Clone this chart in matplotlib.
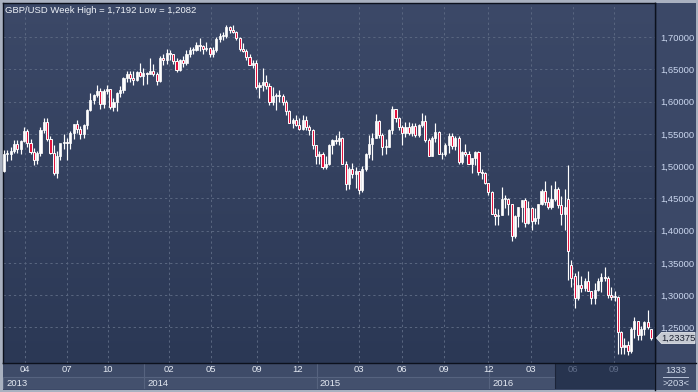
import matplotlib
matplotlib.use("Agg")
import matplotlib.pyplot as plt
import numpy as np
from matplotlib.patches import Rectangle, Polygon
from matplotlib.colors import LinearSegmentedColormap

# ---------------- data (weekly GBP/USD candles) ----------------
opens = [1.4920, 1.5190, 1.5190, 1.5230, 1.5350, 1.5260, 1.5395, 1.5550, 1.5355, 1.5220,
         1.5100, 1.5200, 1.5560, 1.5680, 1.5420, 1.5210, 1.4890, 1.5150, 1.5360, 1.5370,
         1.5360, 1.5520, 1.5650, 1.5570, 1.5490, 1.5640, 1.5870, 1.6020, 1.6100, 1.6170,
         1.5960, 1.6170, 1.6190, 1.5910, 1.6000, 1.6140, 1.6180, 1.6370, 1.6420, 1.6360,
         1.6340, 1.6460, 1.6400, 1.6440, 1.6430, 1.6480, 1.6430, 1.6320, 1.6680, 1.6650,
         1.6750, 1.6730, 1.6630, 1.6490, 1.6640, 1.6600, 1.6740, 1.6800, 1.6800, 1.6880,
         1.6860, 1.6820, 1.6830, 1.6740, 1.6800, 1.6970, 1.7010, 1.7010, 1.7150, 1.7110,
         1.7080, 1.6980, 1.6820, 1.6790, 1.6690, 1.6570, 1.6590, 1.6230, 1.6260, 1.6310,
         1.6240, 1.6000, 1.6080, 1.6090, 1.6080, 1.6000, 1.5850, 1.5660, 1.5710, 1.5640,
         1.5580, 1.5720, 1.5600, 1.5560, 1.5320, 1.5150, 1.5180, 1.4990, 1.5040, 1.5320,
         1.5400, 1.5390, 1.5430, 1.5040, 1.4730, 1.4950, 1.4870, 1.4920, 1.4630, 1.4960,
         1.5180, 1.5340, 1.5440, 1.5700, 1.5480, 1.5290, 1.5300, 1.5560, 1.5880, 1.5740,
         1.5600, 1.5510, 1.5600, 1.5510, 1.5620, 1.5480, 1.5640, 1.5700, 1.5410, 1.5160,
         1.5430, 1.5530, 1.5190, 1.5180, 1.5320, 1.5460, 1.5310, 1.5430, 1.5060, 1.5220,
         1.5190, 1.5040, 1.5120, 1.5220, 1.4910, 1.4900, 1.4740, 1.4600, 1.4260, 1.4230,
         1.4250, 1.4490, 1.4490, 1.4410, 1.3920, 1.4230, 1.4360, 1.4470, 1.4120, 1.4350,
         1.4150, 1.4190, 1.4410, 1.4620, 1.4440, 1.4370, 1.4490, 1.4640, 1.4390, 1.4260,
         1.4490, 1.3470, 1.3290, 1.2950, 1.3160, 1.3110, 1.3220, 1.3070, 1.2950, 1.3080,
         1.3220, 1.3280, 1.3260, 1.3010, 1.2970, 1.2970, 1.2430, 1.2190, 1.2230, 1.2130,
         1.2480, 1.2600, 1.2380, 1.2480, 1.2580, 1.2470]
highs = [1.5250, 1.5250, 1.5300, 1.5410, 1.5410, 1.5400, 1.5605, 1.5580, 1.5420, 1.5280,
         1.5240, 1.5605, 1.5750, 1.5750, 1.5470, 1.5320, 1.5230, 1.5340, 1.5490, 1.5430,
         1.5540, 1.5650, 1.5720, 1.5620, 1.5650, 1.5890, 1.6130, 1.6110, 1.6260, 1.6210,
         1.6190, 1.6260, 1.6190, 1.6050, 1.6150, 1.6240, 1.6380, 1.6470, 1.6480, 1.6480,
         1.6480, 1.6600, 1.6520, 1.6460, 1.6670, 1.6580, 1.6460, 1.6700, 1.6740, 1.6820,
         1.6800, 1.6740, 1.6670, 1.6660, 1.6700, 1.6800, 1.6840, 1.6850, 1.6920, 1.6990,
         1.6880, 1.6930, 1.6850, 1.6850, 1.7000, 1.7060, 1.7070, 1.7180, 1.7170, 1.7192,
         1.7090, 1.7000, 1.6910, 1.6810, 1.6740, 1.6640, 1.6640, 1.6310, 1.6520, 1.6410,
         1.6280, 1.6230, 1.6140, 1.6180, 1.6120, 1.6020, 1.5870, 1.5740, 1.5790, 1.5740,
         1.5790, 1.5780, 1.5640, 1.5570, 1.5330, 1.5240, 1.5220, 1.5160, 1.5350, 1.5420,
         1.5480, 1.5550, 1.5450, 1.5080, 1.4990, 1.5050, 1.4990, 1.4930, 1.5000, 1.5200,
         1.5480, 1.5520, 1.5810, 1.5710, 1.5510, 1.5420, 1.5570, 1.5930, 1.5890, 1.5760,
         1.5630, 1.5680, 1.5680, 1.5660, 1.5660, 1.5650, 1.5820, 1.5790, 1.5430, 1.5470,
         1.5660, 1.5540, 1.5220, 1.5360, 1.5510, 1.5510, 1.5470, 1.5470, 1.5240, 1.5340,
         1.5240, 1.5130, 1.5240, 1.5230, 1.4950, 1.4910, 1.4740, 1.4610, 1.4350, 1.4340,
         1.4670, 1.4560, 1.4500, 1.4410, 1.4240, 1.4360, 1.4470, 1.4510, 1.4460, 1.4360,
         1.4350, 1.4410, 1.4640, 1.4770, 1.4520, 1.4710, 1.4770, 1.4670, 1.4530, 1.4650,
         1.5018, 1.3550, 1.3340, 1.3370, 1.3290, 1.3260, 1.3370, 1.3070, 1.3190, 1.3260,
         1.3340, 1.3440, 1.3290, 1.3120, 1.3060, 1.2980, 1.2450, 1.2330, 1.2290, 1.2500,
         1.2670, 1.2600, 1.2520, 1.2600, 1.2770, 1.2480]
lows = [1.4905, 1.5080, 1.5100, 1.5200, 1.5200, 1.5190, 1.5370, 1.5300, 1.5180, 1.5010,
        1.5040, 1.5160, 1.5510, 1.5390, 1.5180, 1.4860, 1.4815, 1.5100, 1.5270, 1.5100,
        1.5260, 1.5420, 1.5520, 1.5420, 1.5430, 1.5570, 1.5860, 1.5960, 1.6070, 1.5890,
        1.5900, 1.6110, 1.5880, 1.5860, 1.5860, 1.6070, 1.6130, 1.6300, 1.6310, 1.6250,
        1.6320, 1.6380, 1.6260, 1.6270, 1.6420, 1.6390, 1.6250, 1.6300, 1.6570, 1.6580,
        1.6640, 1.6580, 1.6460, 1.6480, 1.6540, 1.6560, 1.6690, 1.6740, 1.6780, 1.6790,
        1.6730, 1.6780, 1.6690, 1.6690, 1.6760, 1.6920, 1.6960, 1.6990, 1.7060, 1.7060,
        1.6960, 1.6790, 1.6760, 1.6640, 1.6560, 1.6520, 1.6200, 1.6050, 1.6160, 1.6190,
        1.5950, 1.5950, 1.5870, 1.6000, 1.5940, 1.5790, 1.5660, 1.5590, 1.5620, 1.5560,
        1.5560, 1.5560, 1.5480, 1.5260, 1.5030, 1.5030, 1.4950, 1.4950, 1.5020, 1.5190,
        1.5350, 1.5330, 1.5030, 1.4630, 1.4640, 1.4820, 1.4660, 1.4565, 1.4600, 1.4920,
        1.5130, 1.5090, 1.5430, 1.5440, 1.5170, 1.5190, 1.5300, 1.5500, 1.5690, 1.5560,
        1.5330, 1.5450, 1.5480, 1.5460, 1.5450, 1.5450, 1.5600, 1.5380, 1.5160, 1.5160,
        1.5370, 1.5190, 1.5110, 1.5150, 1.5210, 1.5270, 1.5250, 1.5030, 1.5030, 1.5150,
        1.5030, 1.4900, 1.5010, 1.4860, 1.4800, 1.4720, 1.4560, 1.4260, 1.4080, 1.4080,
        1.4250, 1.4350, 1.4250, 1.3840, 1.3880, 1.4050, 1.4140, 1.4060, 1.4100, 1.4010,
        1.4100, 1.4100, 1.4400, 1.4400, 1.4330, 1.4330, 1.4460, 1.4350, 1.4090, 1.4010,
        1.3229, 1.3122, 1.2795, 1.2930, 1.3050, 1.3060, 1.3060, 1.2870, 1.2860, 1.3060,
        1.3050, 1.3220, 1.2950, 1.2920, 1.2910, 1.2082, 1.2090, 1.2090, 1.2080, 1.2110,
        1.2330, 1.2300, 1.2300, 1.2380, 1.2480, 1.2300]
closes = [1.5190, 1.5190, 1.5230, 1.5350, 1.5260, 1.5395, 1.5550, 1.5355, 1.5220, 1.5100,
          1.5200, 1.5560, 1.5680, 1.5420, 1.5210, 1.4890, 1.5150, 1.5360, 1.5370, 1.5360,
          1.5520, 1.5650, 1.5570, 1.5490, 1.5640, 1.5870, 1.6020, 1.6100, 1.6170, 1.5960,
          1.6170, 1.6190, 1.5910, 1.6000, 1.6140, 1.6180, 1.6370, 1.6420, 1.6360, 1.6340,
          1.6460, 1.6400, 1.6440, 1.6430, 1.6480, 1.6430, 1.6320, 1.6680, 1.6650, 1.6750,
          1.6730, 1.6630, 1.6490, 1.6640, 1.6600, 1.6740, 1.6800, 1.6800, 1.6880, 1.6860,
          1.6820, 1.6830, 1.6740, 1.6800, 1.6970, 1.7010, 1.7010, 1.7150, 1.7110, 1.7080,
          1.6980, 1.6820, 1.6790, 1.6690, 1.6570, 1.6590, 1.6230, 1.6260, 1.6310, 1.6240,
          1.6000, 1.6080, 1.6090, 1.6080, 1.6000, 1.5850, 1.5660, 1.5710, 1.5640, 1.5580,
          1.5720, 1.5600, 1.5560, 1.5320, 1.5150, 1.5180, 1.4990, 1.5040, 1.5320, 1.5400,
          1.5390, 1.5430, 1.5040, 1.4730, 1.4950, 1.4870, 1.4920, 1.4630, 1.4960, 1.5180,
          1.5340, 1.5440, 1.5700, 1.5480, 1.5290, 1.5300, 1.5560, 1.5880, 1.5740, 1.5600,
          1.5510, 1.5600, 1.5510, 1.5620, 1.5480, 1.5640, 1.5700, 1.5410, 1.5160, 1.5430,
          1.5530, 1.5190, 1.5180, 1.5320, 1.5460, 1.5310, 1.5430, 1.5060, 1.5220, 1.5190,
          1.5040, 1.5120, 1.5220, 1.4910, 1.4900, 1.4740, 1.4600, 1.4260, 1.4230, 1.4250,
          1.4490, 1.4490, 1.4410, 1.3920, 1.4230, 1.4360, 1.4470, 1.4120, 1.4350, 1.4150,
          1.4190, 1.4410, 1.4620, 1.4440, 1.4370, 1.4490, 1.4640, 1.4390, 1.4260, 1.4360,
          1.3680, 1.3270, 1.2950, 1.3160, 1.3110, 1.3220, 1.3070, 1.2950, 1.3080, 1.3220,
          1.3280, 1.3260, 1.3010, 1.2970, 1.2970, 1.2430, 1.2190, 1.2230, 1.2130, 1.2480,
          1.2600, 1.2380, 1.2480, 1.2590, 1.2510, 1.23375]

price_ticks = [1.25, 1.30, 1.35, 1.40, 1.45, 1.50, 1.55, 1.60, 1.65, 1.70]
price_tick_labels = ['1,25000', '1,30000', '1,35000', '1,40000', '1,45000',
                     '1,50000', '1,55000', '1,60000', '1,65000', '1,70000']
month_labels = ['04', '07', '10', '02', '05', '09', '12', '03', '06', '09', '12', '03', '06', '09']
month_pos = [6.3, 19.0, 31.3, 49.7, 62.4, 76.2, 88.6, 107.0, 119.9, 132.6, 145.9, 158.8, 171.5, 183.9]
year_labels = ['2013', '2014', '2015', '2016']
year_starts = [-0.3, 42.2, 94.3, 146.2]
selection_start = 166.1
title = 'GBP/USD Week High = 1,7192 Low = 1,2082'
last_price_label = '1,23375'
bars_label = '1333'
scale_label = '>203<'

# ---------------- figure ----------------
W, H = 698, 392
FONT = 'Liberation Sans'
FS = 6.8
fig = plt.figure(figsize=(W / 100, H / 100), dpi=100)
fig.patch.set_facecolor('#a9b1c0')

ov = fig.add_axes([0, 0, 1, 1], zorder=0)
ov.set_xlim(0, W)
ov.set_ylim(H, 0)
ov.axis('off')
ov.add_patch(Rectangle((3, 3), 693, 387, fc='#3b4867', ec='none'))
ov.add_patch(Rectangle((655, 363), 41, 27, fc='#3f4c69', ec='none'))

XMIN, XMAX = -0.3, 196.2
YMIN, YMAX = 1.19497, 1.75267

ax = fig.add_axes([3 / W, 1 - 363 / H, 652 / W, 360 / H], zorder=2)
grad = np.linspace(0, 1, 256).reshape(-1, 1)
cmap = LinearSegmentedColormap.from_list('bg', ['#2b3855', '#3c4968'])
ax.imshow(grad, extent=[0, 1, 0, 1], transform=ax.transAxes, cmap=cmap,
          aspect='auto', origin='lower', zorder=0)
ax.set_xlim(XMIN, XMAX)
ax.set_ylim(YMIN, YMAX)

gcol = '#58657f'
ax.hlines(price_ticks, XMIN, XMAX, colors=gcol, linestyles=(0, (2.2, 2.8)), linewidth=0.75, zorder=1)
ax.vlines(month_pos, YMIN, YMAX, colors=gcol, linestyles=(0, (2.2, 2.8)), linewidth=0.75, zorder=1)

o = np.array(opens)
h = np.array(highs)
l = np.array(lows)
c = np.array(closes)
idx = np.arange(len(c))
up = c >= o
ax.vlines(idx, l, h, color='white', linewidth=0.85, zorder=3)
body_lo = np.minimum(o, c)
body_h = np.maximum(np.abs(c - o), 0.0015)
ax.bar(idx[up], body_h[up], bottom=body_lo[up], width=0.64, color='white',
       edgecolor='white', linewidth=0.5, zorder=4)
ax.bar(idx[~up], body_h[~up], bottom=body_lo[~up], width=0.64, color='#e3123d',
       edgecolor='white', linewidth=0.7, zorder=4)

ax.set_xticks([])
ax.yaxis.tick_right()
ax.set_yticks(price_ticks)
ax.set_yticklabels(price_tick_labels, fontsize=FS, color='#cad6ee', family=FONT)
ax.tick_params(axis='y', length=0, pad=3.5)
for s in ax.spines.values():
    s.set_color('#0c111d')
    s.set_linewidth(1.0)

ax.text(0.003, 0.992, title, transform=ax.transAxes, ha='left', va='top',
        fontsize=FS, color='#eef2f8', family=FONT, zorder=6)

# ---------------- bottom time panel ----------------
bax = fig.add_axes([3 / W, 1 - 389 / H, 652 / W, 26 / H], zorder=1)
bax.set_xlim(XMIN, XMAX)
bax.set_ylim(0, 26)
bax.axis('off')
bax.add_patch(Rectangle((XMIN, 0), XMAX - XMIN, 26, fc='#3e4b68', ec='none', zorder=0))
year_ends = year_starts[1:] + [XMAX]
for ys, ye, lab in zip(year_starts, year_ends, year_labels):
    bax.add_patch(Rectangle((ys, 0), ye - ys, 12, fc='#43506d', ec='#56637f', lw=0.8, zorder=1))
    if ys > XMIN:
        bax.plot([ys, ys], [0, 26], color='#56637f', lw=0.8, zorder=2)
    bax.text(ys + 0.9, 5.6, lab, ha='left', va='center', fontsize=FS,
             color='#e4e9f2', family=FONT, zorder=4)
bax.add_patch(Rectangle((selection_start, 0), XMAX - selection_start, 26,
                        fc='#27344f', ec='#1c2438', lw=0.8, zorder=3))
for pos, lab in zip(month_pos, month_labels):
    col = '#5f6c88' if pos > selection_start else '#e4e9f2'
    bax.text(pos, 19.3, lab, ha='center', va='center', fontsize=FS,
             color=col, family=FONT, zorder=4)

ov.plot([655, 655], [3, 390], color='#0c111d', lw=1.0, zorder=5)
ov.plot([3, 696], [363, 363], color='#0c111d', lw=1.0, zorder=5)

ov.text(676, 370.5, bars_label, ha='center', va='center', fontsize=FS, color='#d3dcec', family=FONT)
ov.plot([663, 688], [376.5, 376.5], color='#b8c3d8', lw=0.7)
ov.text(676, 383, scale_label, ha='center', va='center', fontsize=FS, color='#d3dcec', family=FONT)

fig.canvas.draw()
disp = ax.transData.transform((0, closes[-1]))
ypx = H - disp[1]
tag = fig.add_axes([0, 0, 1, 1], zorder=7)
tag.set_xlim(0, W)
tag.set_ylim(H, 0)
tag.axis('off')
tag.add_patch(Polygon([(656.5, ypx), (661.5, ypx - 5.5), (695, ypx - 5.5), (695, ypx + 5.5),
                       (661.5, ypx + 5.5)], closed=True, fc='#c6cad2', ec='#e1e4ea', lw=0.6))
tag.text(678.5, ypx + 0.3, last_price_label, ha='center', va='center', fontsize=FS,
         color='#1b2131', family=FONT)

fig.savefig('out.png', dpi=100, facecolor=fig.get_facecolor())
